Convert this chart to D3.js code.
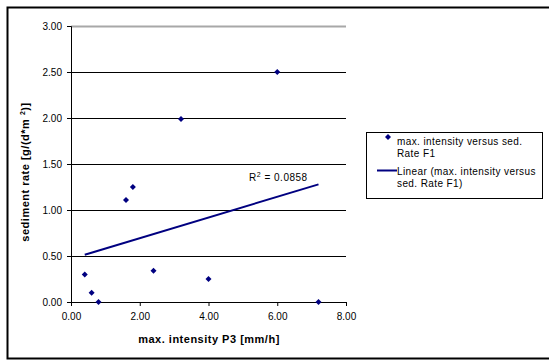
<!DOCTYPE html>
<html>
<head>
<meta charset="utf-8">
<script src="https://cdn.jsdelivr.net/npm/d3@7"></script>
<style>
  body { margin: 0; background: #fff; }
  svg { font-family: "Liberation Sans", Arial, sans-serif; }
</style>
</head>
<body>
<div id="chart"></div>
<script>
// measured points: max. intensity P3 vs sediment rate F1
const intensity = [0.4, 0.6, 0.8, 1.6, 1.8, 2.4, 3.2, 4.0, 6.0, 7.2];
const sedRate = [0.30, 0.10, 0.00, 1.11, 1.25, 0.34, 1.99, 0.25, 2.50, 0.00];
const xTicks = [0, 2, 4, 6, 8];
const yTicks = [0, 0.5, 1, 1.5, 2, 2.5, 3];
const seriesName = ["max. intensity versus sed.", "Rate F1"];
const trendName = ["Linear (max. intensity versus", "sed. Rate F1)"];
const r2Label = "0.0858";

const width = 549, height = 360;
const navy = "#000080";

const svg = d3.select("#chart").append("svg")
    .attr("width", width)
    .attr("height", height);

// chart border (right side runs off the picture)
svg.append("rect")
    .attr("x", 7.5).attr("y", 7.5)
    .attr("width", 560).attr("height", 351)
    .attr("fill", "#fff")
    .attr("stroke", "#000")
    .attr("stroke-width", 2);

const x = d3.scaleLinear().domain([0, 8]).range([71, 346]);
const y = d3.scaleLinear().domain([0, 3]).range([302, 26]);

// gridlines
svg.append("g")
    .selectAll("line")
    .data(yTicks.filter(d => d > 0))
    .enter().append("line")
    .attr("x1", x(0)).attr("x2", x(8))
    .attr("y1", d => Math.round(y(d)) + 0.5)
    .attr("y2", d => Math.round(y(d)) + 0.5)
    .attr("stroke", d => d === 3 ? "#a8a8a8" : "#000")
    .attr("stroke-width", d => d === 3 ? 2 : 1);

// axes
const yAxis = svg.append("g")
    .attr("transform", `translate(${x(0)},0)`)
    .call(d3.axisLeft(y).tickValues(yTicks).tickFormat(d3.format(".2f")).tickSize(4).tickPadding(5));
const xAxis = svg.append("g")
    .attr("transform", `translate(0,${y(0)})`)
    .call(d3.axisBottom(x).tickValues(xTicks).tickFormat(d3.format(".2f")).tickSize(4).tickPadding(7));

[xAxis, yAxis].forEach(a => {
    a.selectAll("path").attr("stroke", "#000");
    a.selectAll("line").attr("stroke", "#000");
    a.selectAll("text").attr("font-size", 10).attr("fill", "#000")
        .attr("font-family", "Liberation Sans, Arial, sans-serif");
});

// trend line (least squares fit of the points)
const mx = d3.mean(intensity), my = d3.mean(sedRate);
const sxy = d3.sum(intensity, (v, i) => (v - mx) * (sedRate[i] - my));
const sxx = d3.sum(intensity, v => (v - mx) * (v - mx));
const slope = sxy / sxx, icpt = my - slope * mx;
const xr = d3.extent(intensity);
const line = d3.line().x(d => x(d)).y(d => y(icpt + slope * d));
svg.append("path")
    .datum(xr)
    .attr("d", line)
    .attr("fill", "none")
    .attr("stroke", navy)
    .attr("stroke-width", 2);

// points - square turned 45deg gives the excel diamond
const diamond = d3.symbol().type(d3.symbolSquare).size(18);
svg.append("g")
    .selectAll("path")
    .data(intensity)
    .enter().append("path")
    .attr("d", diamond)
    .attr("transform", (d, i) => `translate(${x(d)},${y(sedRate[i])}) rotate(45)`)
    .attr("fill", navy);

// R squared label
const r2 = svg.append("text")
    .attr("x", 249).attr("y", 181)
    .attr("font-size", 10).attr("letter-spacing", 0.5);
r2.append("tspan").text("R");
r2.append("tspan").attr("font-size", 7).attr("dy", -4).text("2");
r2.append("tspan").attr("dy", 4).text(" = " + r2Label);

// axis titles
svg.append("text")
    .attr("x", 209).attr("y", 343)
    .attr("text-anchor", "middle")
    .attr("font-size", 11).attr("font-weight", "bold")
    .attr("letter-spacing", 0.5)
    .text("max. intensity P3 [mm/h]");

const yt = svg.append("text")
    .attr("transform", "translate(29,172) rotate(-90)")
    .attr("text-anchor", "middle")
    .attr("font-size", 11).attr("font-weight", "bold")
    .attr("letter-spacing", 0.5);
yt.append("tspan").text("sediment rate [g/(d*m   ");
yt.append("tspan").attr("font-size", 7).attr("dy", -4).text("2");
yt.append("tspan").attr("dy", 4).text(")]");

// legend
const lg = svg.append("g");
lg.append("rect")
    .attr("x", 366.5).attr("y", 132.5)
    .attr("width", 176).attr("height", 66)
    .attr("fill", "#fff").attr("stroke", "#000");
lg.append("path")
    .attr("d", diamond)
    .attr("transform", "translate(388,137) rotate(45)")
    .attr("fill", navy);
lg.append("line")
    .attr("x1", 377).attr("x2", 397)
    .attr("y1", 170.5).attr("y2", 170.5)
    .attr("stroke", navy).attr("stroke-width", 2);
lg.selectAll("text.s")
    .data(seriesName.concat(trendName))
    .enter().append("text")
    .attr("x", 397)
    .attr("y", (d, i) => [145, 157, 175, 187][i])
    .attr("font-size", 10)
    .attr("letter-spacing", 0.4)
    .text(d => d);
</script>
</body>
</html>
